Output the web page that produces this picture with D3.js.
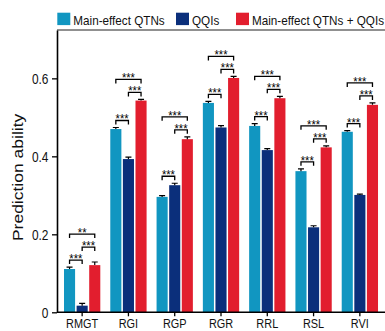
<!DOCTYPE html>
<html><head><meta charset="utf-8">
<script src="https://cdn.jsdelivr.net/npm/d3@7"></script>
<style>html,body{margin:0;padding:0;background:#fff;overflow:hidden}</style>
</head><body><svg id="c" width="385" height="331"></svg>
<script>
const categories = ["RMGT","RGI","RGP","RGR","RRL","RSL","RVI"];
const seriesNames = ["Main-effect QTNs","QQIs","Main-effect QTNs + QQIs"];
const mainQTN  = [0.111, 0.470, 0.296, 0.537, 0.478, 0.362, 0.463];
const qqi      = [0.017, 0.393, 0.326, 0.474, 0.416, 0.218, 0.301];
const combined = [0.121, 0.543, 0.444, 0.601, 0.549, 0.423, 0.532];
const mainErr  = [0.005, 0.004, 0.003, 0.004, 0.006, 0.006, 0.003];
const qqiErr   = [0.006, 0.005, 0.005, 0.005, 0.004, 0.004, 0.002];
const combErr  = [0.008, 0.003, 0.006, 0.004, 0.005, 0.004, 0.005];
const sigMainVsQQI  = ["***","***","***","***","***","***","***"];
const sigQQIVsComb  = ["***","***","***","***","***","***","***"];
const sigMainVsComb = ["**","***","***","***","***","***","***"];
const yTicks = [0, 0.2, 0.4, 0.6];
const colors = ["#1196c1", "#0b2f7b", "#e21e2e"];

const FONT = "'Liberation Sans', Arial, sans-serif";
const svg = d3.select("#c");
const L = 57, R = 385, T = 30, B = 312.3;

const y = d3.scaleLinear().domain([0, 0.724]).range([B, T]);
const x0 = d3.scaleBand().domain(categories).range([59, 383]).padding(0);
const x1 = d3.scaleBand().domain(seriesNames).range([5, 41.3]).paddingInner(0.12);

const vals = [mainQTN, qqi, combined];
const errs = [mainErr, qqiErr, combErr];
const groups = categories.map((c, i) => ({
  cat: c, i,
  bars: seriesNames.map((s, k) => ({ s, k, v: vals[k][i], e: errs[k][i] }))
}));

// frame top line
svg.append("line").attr("x1", L).attr("x2", R).attr("y1", T).attr("y2", T)
  .attr("stroke", "#222").attr("stroke-width", 1.2);

// bars
const g = svg.selectAll("g.grp").data(groups).join("g").attr("class", "grp")
  .attr("transform", d => `translate(${x0(d.cat)},0)`);
g.selectAll("rect").data(d => d.bars).join("rect")
  .attr("x", d => x1(d.s)).attr("width", x1.bandwidth())
  .attr("y", d => y(d.v)).attr("height", d => y(0) - y(d.v))
  .attr("fill", d => colors[d.k]);
// error bars
g.selectAll("path.err").data(d => d.bars).join("path").attr("class", "err")
  .attr("d", d => {
    const cx = x1(d.s) + x1.bandwidth() / 2;
    return `M${cx},${y(d.v)}V${y(d.v + d.e)}M${cx - 3},${y(d.v + d.e)}H${cx + 3}`;
  })
  .attr("stroke", "#000").attr("stroke-width", 1.2).attr("fill", "none");

// significance brackets
function bracket(sel, xa, xb, yy, label) {
  sel.append("path")
    .attr("d", `M${xa},${yy + 4}V${yy}H${xb}V${yy + 4}`)
    .attr("stroke", "#000").attr("stroke-width", 1.3).attr("fill", "none");
  sel.append("text")
    .attr("transform", `translate(${(xa + xb) / 2},${yy + 3}) scale(0.86,1)`)
    .attr("text-anchor", "middle").attr("font-family", FONT).attr("font-size", 13)
    .attr("fill", "#000").text(label);
}
g.each(function(d) {
  const sel = d3.select(this);
  const cx = d.bars.map(b => x1(b.s) + x1.bandwidth() / 2);
  const top = d.bars.map(b => y(b.v + b.e));
  const cd = Math.min(top[0], top[1]) - 7;
  const dr = Math.min(Math.min(top[1], top[2]) - 7, cd - 13);
  const cr = Math.min(dr, cd) - 13;
  bracket(sel, cx[0], cx[1], cd, sigMainVsQQI[d.i]);
  bracket(sel, cx[1], cx[2], dr, sigQQIVsComb[d.i]);
  bracket(sel, cx[0], cx[2], cr, sigMainVsComb[d.i]);
});

// y axis
const ya = svg.append("g").attr("transform", `translate(${L},0)`)
  .call(d3.axisLeft(y).tickValues(yTicks).tickSize(5).tickSizeOuter(0)
    .tickFormat(d => d === 0 ? "0" : d3.format(".1f")(d)));
ya.select(".domain").attr("stroke", "#000").attr("stroke-width", 1.6);
ya.selectAll(".tick line").attr("stroke", "#000").attr("stroke-width", 1.3);
ya.selectAll(".tick text").attr("x", null).attr("dy", "0.36em")
  .attr("transform", "translate(-8.5,0) scale(0.85,1)")
  .attr("font-family", FONT).attr("font-size", 14).attr("fill", "#111");

// x axis
const xa = svg.append("g").attr("transform", `translate(0,${B})`)
  .call(d3.axisBottom(x0).tickSize(4).tickSizeOuter(0));
xa.select(".domain").remove();
xa.append("line").attr("x1", L).attr("x2", R).attr("stroke", "#000").attr("stroke-width", 1.6);
xa.selectAll(".tick line").attr("stroke", "#000").attr("stroke-width", 1.3);
xa.selectAll(".tick text").attr("y", null).attr("dy", null)
  .attr("transform", "translate(0,15.8) scale(0.84,1)")
  .attr("font-family", FONT).attr("font-size", 13).attr("fill", "#111");

// y title
svg.append("text")
  .attr("transform", "translate(22.5,177.4) scale(0.86,1) rotate(-90)")
  .attr("text-anchor", "middle").attr("font-family", FONT).attr("font-size", 17.5)
  .attr("fill", "#111").text("Prediction ability");

// legend
const legX = [57.3, 176, 236];
const lg = svg.selectAll("g.leg").data(seriesNames).join("g").attr("class", "leg")
  .attr("transform", (d, k) => `translate(${legX[k]},12.7)`);
lg.append("rect").attr("width", 13).attr("height", 12.4).attr("fill", (d, k) => colors[k]);
lg.append("text").attr("transform", "translate(16,12) scale(0.9,1)")
  .attr("font-family", FONT).attr("font-size", 13).attr("fill", "#111").text(d => d);
</script></body></html>
